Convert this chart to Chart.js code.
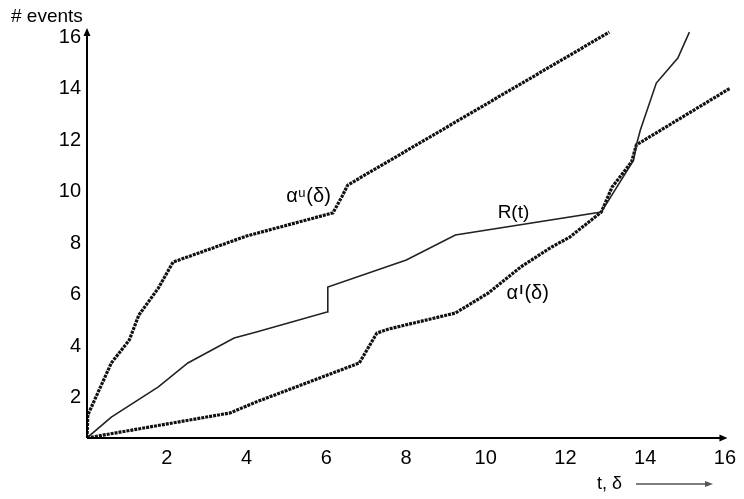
<!DOCTYPE html>
<html>
<head>
<meta charset="utf-8">
<script src="https://cdn.jsdelivr.net/npm/chart.js@4.4.1/dist/chart.umd.min.js"></script>
<style>
  html, body { margin: 0; padding: 0; background: #fff; }
  #wrap { width: 744px; height: 499px; position: relative; }
</style>
</head>
<body>
<div id="wrap"><canvas id="chart"></canvas></div>
<script>
// tick labels
const xTicks = [2, 4, 6, 8, 10, 12, 14, 16];
const yTicks = [2, 4, 6, 8, 10, 12, 14, 16];

// upper arrival curve alpha^u(delta)
const upperT = [0, 0.02, 0.61, 1.06, 1.30, 1.79, 2.16, 4.0, 6.17, 6.39, 6.54, 13.10];
const upperN = [0.43, 1.32, 3.34, 4.23, 5.20, 6.25, 7.26, 8.27, 9.17, 9.79, 10.25, 16.19];

// event trace R(t)
const traceT = [0, 0.61, 1.79, 2.53, 3.69, 4.25, 6.02, 6.04, 8.01, 9.24, 12.90, 13.71, 13.78, 13.88, 14.28, 14.82, 15.11];
const traceN = [0.43, 1.24, 2.41, 3.34, 4.31, 4.54, 5.32, 6.29, 7.34, 8.31, 9.20, 11.22, 11.81, 12.39, 14.21, 15.18, 16.19];

// lower arrival curve alpha^l(delta)
const lowerT = [0, 3.59, 4.25, 6.83, 7.27, 7.57, 9.24, 10.07, 10.88, 11.65, 12.11, 12.90, 13.17, 13.66, 13.78, 16.14];
const lowerN = [0.43, 1.40, 1.83, 3.34, 4.50, 4.66, 5.28, 6.06, 7.07, 7.84, 8.23, 9.20, 10.17, 11.15, 11.81, 14.02];

const FONT = '"Liberation Sans", Arial, Helvetica, sans-serif';

function pts(xs, ys) {
    return xs.map((x, i) => ({ x: x, y: ys[i] }));
}

function arrowHead(ctx, x, y, dir, len, half) {
    ctx.beginPath();
    if (dir === 'up') {
        ctx.moveTo(x, y);
        ctx.lineTo(x - half, y + len);
        ctx.lineTo(x + half, y + len);
    } else {
        ctx.moveTo(x, y);
        ctx.lineTo(x - len, y - half);
        ctx.lineTo(x - len, y + half);
    }
    ctx.closePath();
    ctx.fill();
}

// axes with arrows and the text labels
const decor = {
    id: 'decor',
    afterDraw(chart) {
        const ctx = chart.ctx;
        const a = chart.chartArea;
        const xs = chart.scales.x, ys = chart.scales.y;
        ctx.save();
        ctx.strokeStyle = '#000';
        ctx.fillStyle = '#000';
        ctx.lineWidth = 2;
        ctx.beginPath();
        ctx.moveTo(a.left, a.bottom);
        ctx.lineTo(a.left, a.top + 6);
        ctx.moveTo(a.left, a.bottom);
        ctx.lineTo(a.right - 9, a.bottom);
        ctx.stroke();
        arrowHead(ctx, a.left, a.top, 'up', 8, 3.5);
        arrowHead(ctx, a.right - 3, a.bottom, 'right', 8, 3.5);

        ctx.textBaseline = 'alphabetic';
        ctx.textAlign = 'left';

        // y title
        ctx.font = '19px ' + FONT;
        ctx.fillText('# events', 11, 22);

        // x title with arrow
        ctx.font = '18px ' + FONT;
        ctx.fillText('t, \u03b4', 597, 489);
        ctx.strokeStyle = '#555';
        ctx.fillStyle = '#555';
        ctx.lineWidth = 1.5;
        ctx.beginPath();
        ctx.moveTo(636, 484);
        ctx.lineTo(706, 484);
        ctx.stroke();
        arrowHead(ctx, 713, 484, 'right', 8, 3);

        ctx.fillStyle = '#000';
        // alpha^u(delta)
        let x = xs.getPixelForValue(5.0), y = ys.getPixelForValue(9.6);
        ctx.font = '20px ' + FONT;
        ctx.fillText('\u03b1', x, y);
        ctx.font = '13px ' + FONT;
        ctx.fillText('u', x + 12, y - 5);
        ctx.font = '20px ' + FONT;
        ctx.fillText('(\u03b4)', x + 20, y);

        // R(t)
        x = xs.getPixelForValue(10.3); y = ys.getPixelForValue(8.96);
        ctx.font = '19px ' + FONT;
        ctx.fillText('R(t)', x, y);

        // alpha^l(delta)
        x = xs.getPixelForValue(10.52); y = ys.getPixelForValue(5.82);
        ctx.font = '20px ' + FONT;
        ctx.fillText('\u03b1', x, y);
        ctx.font = 'bold 13px ' + FONT;
        ctx.fillText('l', x + 13, y - 5);
        ctx.font = '20px ' + FONT;
        ctx.fillText('(\u03b4)', x + 18, y);
        ctx.restore();
    }
};

const ctx = document.getElementById('chart').getContext('2d');
const chart = new Chart(ctx, {
    type: 'line',
    data: {
        datasets: [
            {
                label: 'alpha u',
                data: pts(upperT, upperN),
                borderColor: '#111',
                borderWidth: 3.2,
                borderDash: [3, 1],
                pointRadius: 0,
                tension: 0,
                fill: false
            },
            {
                label: 'R(t)',
                data: pts(traceT, traceN),
                borderColor: '#222',
                borderWidth: 1.6,
                pointRadius: 0,
                tension: 0,
                fill: false
            },
            {
                label: 'alpha l',
                data: pts(lowerT, lowerN),
                borderColor: '#111',
                borderWidth: 3.2,
                borderDash: [3, 1],
                pointRadius: 0,
                tension: 0,
                fill: false
            }
        ]
    },
    options: {
        responsive: true,
        maintainAspectRatio: false,
        animation: false,
        layout: { padding: { top: 28, right: 0, left: 0, bottom: 0 } },
        plugins: {
            legend: { display: false },
            tooltip: { enabled: false }
        },
        scales: {
            x: {
                type: 'linear',
                min: 0,
                max: 16.14,
                grid: { display: false, drawTicks: false },
                border: { display: false },
                ticks: {
                    color: '#000',
                    font: { family: FONT, size: 20 },
                    padding: 8,
                    maxRotation: 0
                },
                afterBuildTicks: (s) => { s.ticks = xTicks.map(v => ({ value: v })); },
                afterFit: (s) => { s.height = 61; }
            },
            y: {
                type: 'linear',
                min: 0.427,
                max: 16.35,
                grid: { display: false, drawTicks: false },
                border: { display: false },
                ticks: {
                    color: '#000',
                    font: { family: FONT, size: 20 },
                    padding: 6
                },
                afterBuildTicks: (s) => { s.ticks = yTicks.map(v => ({ value: v })); },
                afterFit: (s) => { s.width = 87; }
            }
        }
    },
    plugins: [decor]
});
</script>
</body>
</html>
